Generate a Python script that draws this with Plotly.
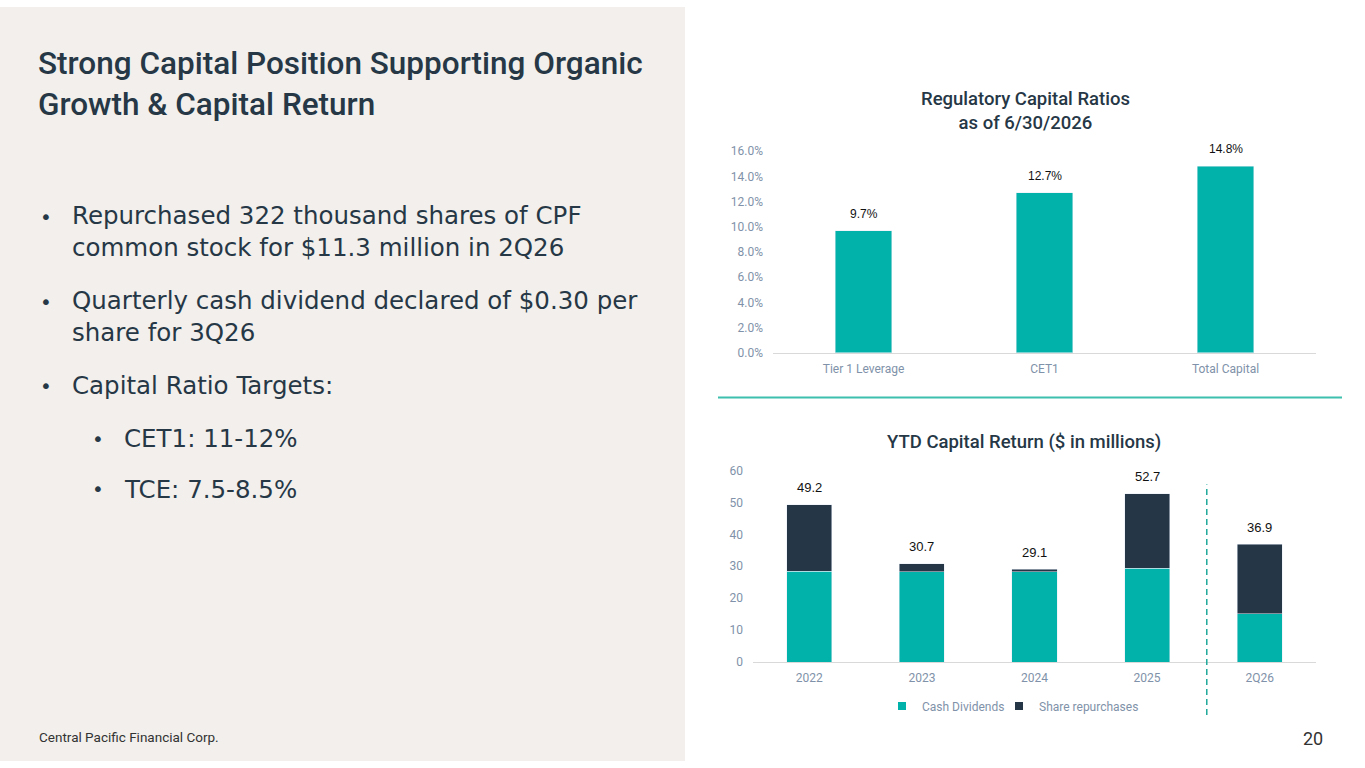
import plotly.graph_objects as go

# Regulatory capital ratios (top chart)
ratio_names = ["Tier 1 Leverage", "CET1", "Total Capital"]
ratio_values = [9.7, 12.7, 14.8]

# YTD capital return (bottom chart), $ in millions
periods = ["2022", "2023", "2024", "2025", "2Q26"]
cash_dividends = [28.4, 28.2, 28.3, 29.4, 15.1]
share_repurchases = [20.8, 2.5, 0.8, 23.3, 21.8]
totals = [49.2, 30.7, 29.1, 52.7, 36.9]

TEAL = "#00B2A9"
NAVY = "#253746"
TICK = "#7F92A9"
DARK = "#263746"
BEIGE = "#F2EFEC"
W, H = 1365, 768


def px_x(x):
  return x / W


def px_y(y):
  # the photographed page comes out slightly squeezed vertically, compensate
  return 1 - ((y - 5.5) / 0.984) / H


fig = go.Figure()

# top chart
fig.add_trace(go.Bar(
  x=ratio_names, y=ratio_values, marker_color=TEAL, width=0.31,
  showlegend=False, xaxis="x", yaxis="y", hoverinfo="x+y",
))

# bottom chart (stacked)
xpos = list(range(len(periods)))
fig.add_trace(go.Bar(
  x=xpos, y=cash_dividends, name="Cash Dividends", marker_color=TEAL,
  width=0.4, xaxis="x2", yaxis="y2", showlegend=False,
))
fig.add_trace(go.Bar(
  x=xpos, y=share_repurchases, name="Share repurchases", marker_color=NAVY,
  width=0.4, xaxis="x2", yaxis="y2", showlegend=False,
))
# small square legend entries, one legend each so the spacing can be set
for name, col, leg in [("Cash Dividends", TEAL, "legend"), ("Share repurchases", NAVY, "legend2")]:
  fig.add_trace(go.Scatter(
    x=[None], y=[None], mode="markers", name=name, legend=leg,
    marker=dict(symbol="square", size=8, color=col),
    xaxis="x2", yaxis="y2", showlegend=True,
  ))

axis_font = dict(family="Roboto", size=12, color=TICK)
legend_style = dict(orientation="h", xanchor="left", y=px_y(706), yanchor="middle",
                    font=dict(family="Roboto", size=12, color=TICK),
                    itemwidth=30, bgcolor="rgba(0,0,0,0)")

fig.update_layout(
  width=W, height=H, margin=dict(l=0, r=0, t=0, b=0),
  paper_bgcolor="white", plot_bgcolor="rgba(0,0,0,0)",
  barmode="stack",
  xaxis=dict(domain=[px_x(773), px_x(1316)], anchor="y", showgrid=False,
             showline=True, linecolor="#D9D9D9", linewidth=1, ticks="",
             tickfont=axis_font, ticklabelstandoff=5),
  yaxis=dict(domain=[px_y(352), px_y(150)], anchor="x", range=[0, 16],
             tickvals=[0, 2, 4, 6, 8, 10, 12, 14, 16],
             ticktext=["{:.1f}%".format(v) for v in [0, 2, 4, 6, 8, 10, 12, 14, 16]],
             showgrid=False, zeroline=False, tickfont=axis_font, ticklabelstandoff=9),
  xaxis2=dict(domain=[px_x(753), px_x(1316)], anchor="y2", range=[-0.5, 4.5],
              tickvals=xpos, ticktext=periods, showgrid=False, showline=True,
              linecolor="#D9D9D9", linewidth=1, ticks="", tickfont=axis_font,
              ticklabelstandoff=5),
  yaxis2=dict(domain=[px_y(662), px_y(470)], anchor="x2", range=[0, 60], dtick=10,
              showgrid=False, zeroline=False, tickfont=axis_font, ticklabelstandoff=9),
  legend=dict(x=px_x(882), **legend_style),
  legend2=dict(x=px_x(999), **legend_style),
  showlegend=True,
)

shapes = [
  # left panel background
  dict(type="rect", xref="paper", yref="paper", x0=0, x1=px_x(685), y0=0, y1=1,
       fillcolor=BEIGE, line=dict(width=0), layer="below"),
  # separator between charts
  dict(type="line", xref="paper", yref="paper", x0=px_x(718), x1=px_x(1342),
       y0=px_y(397), y1=px_y(397), line=dict(color="#3DC0AE", width=2)),
  # dashed divider before 2Q26
  dict(type="line", xref="x2", yref="paper", x0=3.53, x1=3.53,
       y0=px_y(715), y1=px_y(484), line=dict(color="#1FA89A", width=1.5, dash="6px,4px")),
]
fig.update_layout(shapes=shapes)

anns = []
# value labels above bars
for name, v in zip(ratio_names, ratio_values):
  anns.append(dict(x=name, y=v, xref="x", yref="y", yshift=17, text="{:.1f}%".format(v),
                   font=dict(family="Liberation Sans", size=12, color="#111111")))
for xp, v in zip(xpos, totals):
  anns.append(dict(x=xp, y=v, xref="x2", yref="y2", yshift=17, text="{:.1f}".format(v),
                   font=dict(family="Liberation Sans", size=13, color="#111111")))

text_anns = [
  dict(x=px_x(1025), y=px_y(110), xanchor="center",
       text="Regulatory Capital Ratios<br>as of 6/30/2026",
       font=dict(family="Roboto", size=18.5, color=DARK, weight=500)),
  dict(x=px_x(1024), y=px_y(441), xanchor="center", text="YTD Capital Return ($ in millions)",
       font=dict(family="Roboto", size=18.5, color=DARK, weight=500)),
  dict(x=px_x(36), y=px_y(83), xanchor="left",
       text="Strong Capital Position Supporting Organic<br>Growth & Capital Return",
       align="left", font=dict(family="Roboto", size=31.5, color=DARK, weight=500)),
  dict(x=px_x(37), y=px_y(737), xanchor="left", text="Central Pacific Financial Corp.",
       font=dict(family="Roboto", size=13.5, color="#333333")),
  dict(x=px_x(1325), y=px_y(739), xanchor="right", text="20",
       font=dict(family="Roboto", size=18, color="#333333")),
]

bullets = [
  (231, 38, "Repurchased 322 thousand shares of CPF<br>common stock for $11.3 million in 2Q26"),
  (316, 38, "Quarterly cash dividend declared of $0.30 per<br>share for 3Q26"),
  (385, 38, "Capital Ratio Targets:"),
  (438, 90, "CET1: 11-12%"),
  (489, 90, "TCE: 7.5-8.5%"),
]
for y, bx, txt in bullets:
  first_line_y = y - 15 if "<br>" in txt else y
  text_anns.append(dict(x=px_x(bx), y=px_y(first_line_y), xanchor="left", text="•",
                        font=dict(family="DejaVu Sans", size=20, color=DARK)))
  text_anns.append(dict(x=px_x(bx + 32), y=px_y(y), xanchor="left", text=txt, align="left",
                        font=dict(family="DejaVu Sans", size=24.5, color=DARK)))

for a in text_anns:
  a.update(xref="paper", yref="paper")
anns += text_anns
for a in anns:
  a.update(showarrow=False, yanchor="middle")
fig.update_layout(annotations=anns)

fig.write_html(
  "out.html",
  config={"displayModeBar": False},
  post_script=(
    "document.body.style.margin='0';document.body.style.overflow='hidden';"
    "var bg='linear-gradient(to right, " + BEIGE + " 685px, #ffffff 685px)';"
    "document.body.style.background=bg;document.documentElement.style.background=bg;"
    "var d=document.getElementById('{plot_id}');"
    "d.style.position='fixed';d.style.top='0px';d.style.left='0px';"
  ),
)
